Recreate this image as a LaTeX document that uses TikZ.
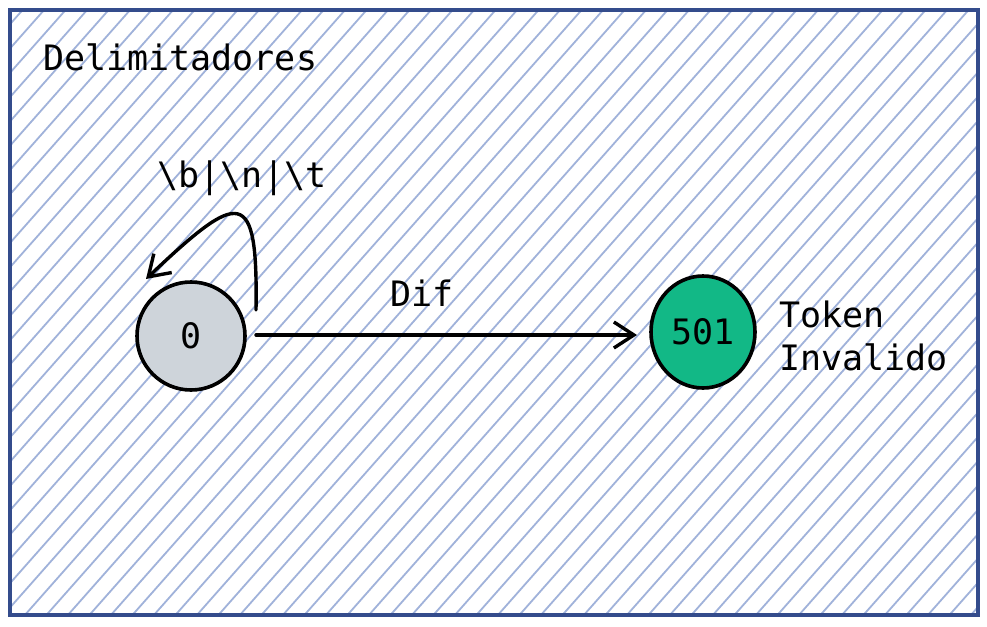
\documentclass[tikz,border=0pt]{standalone}
\usepackage{fontspec}
\setmonofont{DejaVu Sans Mono}
\usetikzlibrary{arrows.meta,calc,shapes.geometric}
\definecolor{frameblue}{RGB}{52,76,140}
\definecolor{hatchblue}{RGB}{160,178,218}
\definecolor{stategray}{RGB}{206,212,218}
\definecolor{stategreen}{RGB}{18,184,134}
\tikzset{
  lbl/.style={font=\ttfamily\fontsize{35}{43}\selectfont, inner sep=0pt},
  state/.style={circle, draw=black, line width=3.6pt, minimum size=108pt, inner sep=0pt, font=\ttfamily\fontsize{35}{43}\selectfont},
  arr/.style={line width=3.4pt, line cap=round, -{Straight Barb[length=20pt,width=26pt,line width=3.4pt]}},
}
\begin{document}
\begin{tikzpicture}[x=1pt,y=-1pt]
\useasboundingbox (0,0) rectangle (987,626);
\fill[white] (0,0) rectangle (987,626);
\begin{scope}
  \clip (10,10) rectangle (978,615);
  \foreach \i in {-560,-538.5,...,1000} {
    \draw[hatchblue, line width=1.8pt] (\i,620) -- ({\i+544},5);
  }
\end{scope}
\draw[frameblue, line width=4pt] (10,10) rectangle (978,615);

\node[lbl, anchor=west] (title) at (43,57) {Delimitadores};

\node[state, fill=stategray] (s0) at (191,336) {0};
\node[ellipse, draw=black, line width=3.6pt, inner sep=0pt, fill=stategreen, minimum width=104pt, minimum height=112pt, font=\ttfamily\fontsize{35}{43}\selectfont] (s501) at (703,332) {501};

\node[lbl, align=left, anchor=west] (tok) at (779,336) {Token\\Invalido};

\coordinate (l1) at (256,310);
\coordinate (l2) at (146,279);
\draw[arr] (l1) .. controls (258,185) and (240,190) .. (l2);
\node[lbl] (loopl) at (242,178) {\textbackslash b|\textbackslash n|\textbackslash t};

\coordinate (a1) at (256,335);
\coordinate (a2) at (637,335);
\draw[arr] (a1) -- (a2);
\node[lbl] (dif) at (422,293) {Dif};
\end{tikzpicture}
\end{document}
